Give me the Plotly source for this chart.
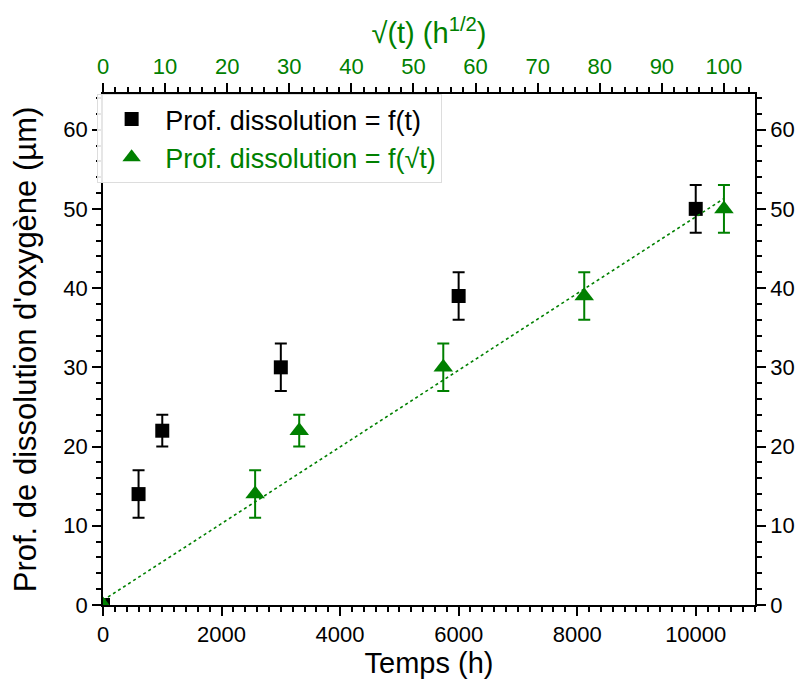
import plotly.graph_objects as go

# Data
temps_h = [0, 600, 1000, 3000, 6000, 10000]
sqrt_temps = [0, 24.5, 31.6, 54.8, 77.5, 100]
profondeur_um = [0, 14, 22, 30, 39, 50]
erreur_um = [0, 3, 2, 3, 3, 3]
fit_sqrt_x = [0, 100]
fit_y = [0.6, 51.3]

GREEN = "#008000"
FONT = "Liberation Sans, Arial, sans-serif"

fig = go.Figure()

fig.add_trace(go.Scatter(
    x=temps_h, y=profondeur_um, mode="markers",
    marker=dict(symbol="square", size=14, color="black"),
    error_y=dict(type="data", array=erreur_um, color="black", thickness=2, width=6),
    name="Prof. dissolution = f(t)", xaxis="x", yaxis="y"))

fig.add_trace(go.Scatter(
    x=fit_sqrt_x, y=fit_y, mode="lines",
    line=dict(color=GREEN, width=1.6, dash="3px,3px"),
    showlegend=False, hoverinfo="skip", xaxis="x2", yaxis="y"))

fig.add_trace(go.Scatter(
    x=sqrt_temps, y=profondeur_um, mode="markers",
    marker=dict(symbol="triangle-up", size=17, color=GREEN),
    error_y=dict(type="data", array=erreur_um, color=GREEN, thickness=2, width=6),
    name='<span style="color:#008000">Prof. dissolution = f(√t)</span>',
    xaxis="x2", yaxis="y"))

fig.add_trace(go.Scatter(x=[None], y=[None], xaxis="x", yaxis="y2",
                         showlegend=False, hoverinfo="skip"))

common = dict(showline=True, linecolor="black", linewidth=1.5, ticks="outside",
              ticklen=9, tickwidth=1.5, tickcolor="black", showgrid=False,
              zeroline=False, automargin=False)
minor = dict(ticklen=5, tickwidth=1.5, ticks="outside", tickcolor="black")

fig.update_layout(
    width=798, height=684,
    margin=dict(l=103, r=43, t=94, b=79),
    paper_bgcolor="white", plot_bgcolor="white",
    font=dict(family=FONT, color="black"),
    xaxis=dict(range=[0, 11000], dtick=2000, tickformat="d", tickfont=dict(size=22),
               minor=dict(dtick=200, **minor),
               title=dict(text="Temps (h)", font=dict(size=29), standoff=0),
               anchor="y", **common),
    xaxis2=dict(range=[0, 105], dtick=10, overlaying="x", side="top", anchor="y",
                tickfont=dict(size=22, color=GREEN),
                minor=dict(dtick=2, **minor),
                title=dict(text="√(t) (h<sup>1/2</sup>)", font=dict(size=29, color=GREEN), standoff=2),
                **common),
    yaxis=dict(range=[0, 64.5], dtick=10, tickfont=dict(size=22), anchor="x",
               minor=dict(dtick=2, **minor),
               title=dict(text="Prof. de dissolution d'oxygène (µm)", font=dict(size=31), standoff=18),
               **common),
    yaxis2=dict(range=[0, 64.5], dtick=10, tickfont=dict(size=22), overlaying="y",
                side="right", anchor="x",
                minor=dict(dtick=2, **minor),
                **common),
    legend=dict(x=-0.009, y=1.0, xanchor="left", yanchor="top",
                font=dict(size=27, family=FONT), bgcolor="rgba(255,255,255,0.9)",
                bordercolor="#dddddd", borderwidth=1, tracegroupgap=0, itemwidth=57),
    showlegend=True,
)

fig.write_html("out.html", config={"displayModeBar": False},
               post_script="document.body.style.margin='0';")
